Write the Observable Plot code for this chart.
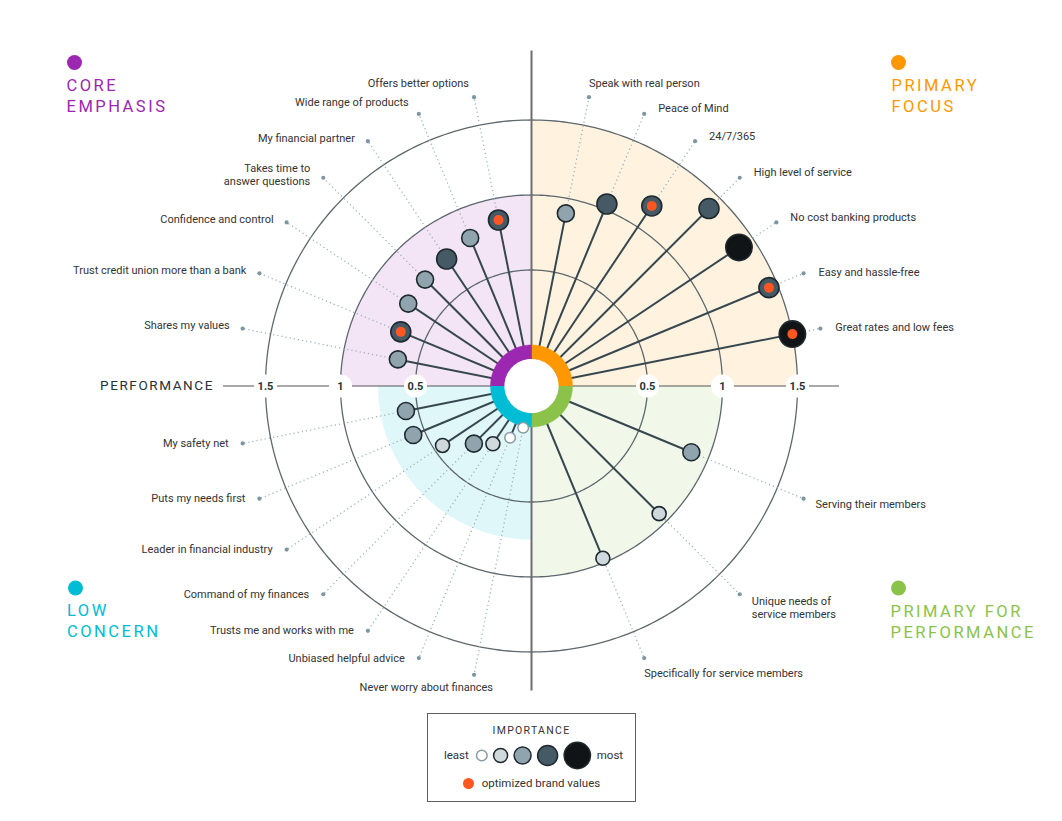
<!DOCTYPE html>
<html>
<head>
<meta charset="utf-8">
<script src="https://cdn.jsdelivr.net/npm/d3@7"></script>
<script src="https://cdn.jsdelivr.net/npm/@observablehq/plot@0.6"></script>
<style>
  body { margin: 0; background: #fff; font-family: Roboto, "Noto Sans", sans-serif; }
  #chart { position: absolute; left: 0; top: 0; }
  #legend { position: absolute; left: 427px; top: 713px; width: 209px; height: 89px; box-sizing: border-box;
            border: 1.5px solid #5f5f5f; color: #333; }
  #legend .ltitle { position: absolute; top: 10px; left: 0; width: 100%; text-align: center; font-size: 10.5px; letter-spacing: 1.3px; }
  #legend .lrow { position: absolute; top: 26px; left: 2px; width: 100%; display: flex; justify-content: center; align-items: center; gap: 6px; font-size: 11.5px; }
  #legend .lrow2 { position: absolute; top: 62px; left: 0; width: 100%; display: flex; justify-content: center; align-items: center; gap: 8px; font-size: 11.5px; }
  #legend .odot { width: 11px; height: 11px; border-radius: 50%; background: #ff5722; display: inline-block; }
</style>
</head>
<body>
<div id="chart"></div>
<div id="legend">
  <div class="ltitle">IMPORTANCE</div>
  <div class="lrow"><span>least</span><span id="swatches"></span><span>most</span></div>
  <div class="lrow2"><span class="odot"></span><span>optimized brand values</span></div>
</div>
<script>
// ---------------- DATA ----------------
// Quadrant order of items: clockwise from the quadrant's starting axis
const trLabels = ["Speak with real person", "Peace of Mind", "24/7/365", "High level of service",
                  "No cost banking products", "Easy and hassle-free", "Great rates and low fees"];
const trValues = [0.90, 1.04, 1.17, 1.40, 1.39, 1.44, 1.50];
const trImportance = [3, 4, 4, 4, 5, 4, 5];
const trOptimized = [false, false, true, false, false, true, true];

const brLabels = ["Serving their members", "Unique needs of\nservice members", "Specifically for service members"];
const brValues = [0.88, 0.93, 0.97];
const brImportance = [3, 2, 2];
const brOptimized = [false, false, false];

const blLabels = ["Never worry about finances", "Unbiased helpful advice", "Trusts me and works with me",
                  "Command of my finances", "Leader in financial industry", "Puts my needs first", "My safety net"];
const blValues = [0.01, 0.10, 0.19, 0.27, 0.44, 0.58, 0.58];
const blImportance = [1, 1, 2, 3, 2, 3, 3];
const blOptimized = [false, false, false, false, false, false, false];

const tlLabels = ["Shares my values", "Trust credit union more than a bank", "Confidence and control",
                  "Takes time to\nanswer questions", "My financial partner", "Wide range of products", "Offers better options"];
const tlValues = [0.635, 0.67, 0.715, 0.73, 0.745, 0.795, 0.855];
const tlImportance = [3, 4, 3, 3, 4, 3, 4];
const tlOptimized = [false, true, false, false, false, false, true];

const quadrantKeys = ["TR", "BR", "BL", "TL"];
const quadrantNames = ["PRIMARY\nFOCUS", "PRIMARY FOR\nPERFORMANCE", "LOW\nCONCERN", "CORE\nEMPHASIS"];
const quadrantExtent = [1.5, 1.0, 0.75, 1.0];   // shaded sector reach (performance)
const gridTicks = [0.5, 1, 1.5];
const importanceLevels = [1, 2, 3, 4, 5];
const axisTitle = "PERFORMANCE";

// ---------------- STYLE ----------------
const ringColors = ["#ff9800", "#8bc34a", "#00bcd4", "#9c27b0"];
const shadeColors = ["#fff3e0", "#f1f8e9", "#e0f7fa", "#f3e5f5"];
const levelFills = ["#ffffff", "#cfd8dc", "#90a4ae", "#455a64", "#111416"];
const levelRadii = [5.3, 7, 8.5, 10, 13.2];
const W = 1062, H = 705, CX = 531, CY = 385.5, U = 150;   // U: pixels per performance unit
const R0 = 41 / U;    // performance 0 sits at the ring's outer edge
const RI = 27 / U;    // ring inner edge
const RL = 1.69;      // leader end (performance units)
const reach = {top: 1.96, bottom: 1.76, side: 1.78};

// ---------------- GEOMETRY HELPERS ----------------
const pol = (r, a) => ({x: r * Math.sin(a * Math.PI / 180), y: r * Math.cos(a * Math.PI / 180)});
const arc = (r, a0, a1) => {
  const n = Math.max(2, Math.ceil(Math.abs(a1 - a0)));
  return d3.range(n + 1).map(k => pol(r, a0 + (a1 - a0) * k / n));
};

const quadrants = [
  {labels: trLabels, values: trValues, importance: trImportance, optimized: trOptimized},
  {labels: brLabels, values: brValues, importance: brImportance, optimized: brOptimized},
  {labels: blLabels, values: blValues, importance: blImportance, optimized: blOptimized},
  {labels: tlLabels, values: tlValues, importance: tlImportance, optimized: tlOptimized}
].map((q, k) => ({...q, key: quadrantKeys[k], start: 90 * k, extent: quadrantExtent[k],
                  ring: ringColors[k], shade: shadeColors[k], name: quadrantNames[k]}));

function placeOf(key, i, n) {
  if (key === "TR") return i === 0 ? "aboveR" : (i >= n - 2 ? "rightLow" : "right");
  if (key === "TL") return i === n - 1 ? "aboveL" : (i === n - 2 ? "leftHigh" : "leftUp");
  if (key === "BL") return i === 0 ? "belowL" : "leftDown";
  return i === n - 1 ? "belowR" : "rightDown";
}
const placeStyle = {
  aboveR:    {textAnchor: "start", dx: 0,   dy: -14},
  right:     {textAnchor: "start", dx: 14,  dy: -5},
  rightLow:  {textAnchor: "start", dx: 15,  dy: -1},
  aboveL:    {textAnchor: "end",   dx: -5,  dy: -14},
  leftHigh:  {textAnchor: "end",   dx: -10, dy: -11},
  leftUp:    {textAnchor: "end",   dx: -13, dy: -3},
  belowL:    {textAnchor: "end",   dx: 19,  dy: 13},
  leftDown:  {textAnchor: "end",   dx: -14, dy: 0},
  belowR:    {textAnchor: "start", dx: 0,   dy: 15},
  rightDown: {textAnchor: "start", dx: 12,  dy: 6}
};

const items = quadrants.flatMap(q => {
  const n = q.labels.length;
  return q.labels.map((label, i) => {
    const a = q.start + (i + 1) * 90 / (n + 1);
    const p = pol(R0 + q.values[i], a), l = pol(R0 + RL, a);
    return {label, value: q.values[i], level: q.importance[i], opt: q.optimized[i],
            x: p.x, y: p.y, lx: l.x, ly: l.y, place: placeOf(q.key, i, n),
            multi: label.includes("\n")};
  });
});

const tickData = gridTicks.flatMap(t => [{t, x: -(R0 + t)}, {t, x: R0 + t}]);
const gridPts = gridTicks.flatMap(t => arc(R0 + t, 0, 360).map(p => ({...p, t})));

const corners = [
  {k: 0, dot: [898, 62], txt: [891, 75.5]},
  {k: 1, dot: [898, 587.5], txt: [890, 601.5]},
  {k: 2, dot: [75, 587.5], txt: [66.5, 601]},
  {k: 3, dot: [74, 62], txt: [66, 75.5]}
];

const marks = [];
// shaded sectors
quadrants.forEach(q => {
  marks.push(Plot.line([{x: 0, y: 0}, ...arc(R0 + q.extent, q.start, q.start + 90), {x: 0, y: 0}],
    {x: "x", y: "y", fill: q.shade, stroke: "none"}));
});
// grid circles
marks.push(Plot.line(gridPts, {x: "x", y: "y", z: "t", stroke: "#5d686d", strokeWidth: 1.3}));
// axes lines
marks.push(Plot.ruleY([0], {x1: -(R0 + reach.side), x2: R0 + reach.side, stroke: "#555", strokeWidth: 1.2}));
marks.push(Plot.ruleX([0], {y1: -(R0 + reach.bottom), y2: R0 + reach.top, stroke: "#6e6e6e", strokeWidth: 2}));
// leaders
marks.push(Plot.link(items, {x1: "x", y1: "y", x2: "lx", y2: "ly", stroke: "#9fb1b9", strokeWidth: 1.3, strokeDasharray: "1.2,3"}));
marks.push(Plot.dot(items, {x: "lx", y: "ly", r: 2.1, fill: "#7d97a2"}));
// stems
marks.push(Plot.link(items, {x1: () => 0, y1: () => 0, x2: "x", y2: "y", stroke: "#37474f", strokeWidth: 2}));
// ring
quadrants.forEach(q => {
  marks.push(Plot.line([...arc(R0, q.start, q.start + 90), ...arc(RI, q.start + 90, q.start)],
    {x: "x", y: "y", fill: q.ring, stroke: q.ring, strokeWidth: 0.5}));
});
marks.push(Plot.line(arc(RI, 0, 360), {x: "x", y: "y", fill: "white", stroke: "none"}));
// tick labels
marks.push(Plot.dot(tickData, {x: "x", y: () => 0, r: 11.5, fill: "white"}));
marks.push(Plot.text(tickData, {x: "x", y: () => 0, text: d => String(d.t), fontWeight: "bold", fontSize: 11, fill: "#263238"}));
marks.push(Plot.text([axisTitle], {x: () => -(R0 + reach.side), y: () => 0, text: d => d, textAnchor: "end", dx: -9.5,
  fontSize: 13.5, fill: "#263238"}));
// lollipop heads
marks.push(Plot.dot(items.filter(d => d.level === 1), {x: "x", y: "y", r: d => levelRadii[d.level - 1], fill: "level", stroke: "#8a9aa3", strokeWidth: 1.5}));
marks.push(Plot.dot(items.filter(d => d.level > 1), {x: "x", y: "y", r: d => levelRadii[d.level - 1], fill: "level", stroke: "#1f2a30", strokeWidth: 1.6}));
marks.push(Plot.dot(items.filter(d => d.opt), {x: "x", y: "y", r: 5, fill: "#ff5722"}));
// labels
Object.entries(placeStyle).forEach(([k, s]) => {
  const grp = items.filter(d => d.place === k);
  const single = grp.filter(d => !d.multi), multi = grp.filter(d => d.multi);
  marks.push(Plot.text(single, {x: "lx", y: "ly", text: "label", ...s, fontSize: 11, fill: "#333"}));
  marks.push(Plot.text(multi, {x: "lx", y: "ly", text: "label", ...s, dy: s.dy + (k === "rightDown" ? 7.5 : 0),
    fontSize: 11, fill: "#333", lineHeight: 1.15}));
});
// corner labels
corners.forEach(c => {
  const q = quadrants[c.k];
  marks.push(Plot.dot([q], {frameAnchor: "top-left", dx: c.dot[0], dy: c.dot[1], r: 7.5, fill: q.ring}));
  marks.push(Plot.text([q], {frameAnchor: "top-left", dx: c.txt[0], dy: c.txt[1], text: "name", textAnchor: "start",
    lineAnchor: "top", fontSize: 16.5, lineHeight: 1.26, fill: q.ring}));
});

const chart = Plot.plot({
  width: W, height: H, margin: 0,
  x: {domain: [-CX / U, (W - CX) / U], range: [0, W], axis: null},
  y: {domain: [-(H - CY) / U, CY / U], range: [H, 0], axis: null},
  r: {type: "identity"},
  color: {type: "ordinal", domain: importanceLevels, range: levelFills},
  style: {fontFamily: "Roboto, sans-serif", background: "transparent", overflow: "visible"},
  marks
});
document.getElementById("chart").appendChild(chart);

// letter spacing for the spaced capitals
const cornerText = quadrantNames.map(n => n.replace("\n", ""));
d3.select(chart).selectAll("text").each(function () {
  const t = this.textContent;
  if (cornerText.includes(t)) this.style.letterSpacing = "2.5px";
  else if (t === axisTitle) this.style.letterSpacing = "1.6px";
});

// legend swatches
let cur = 1;
const centers = levelRadii.map((r, i) => { const c = cur + r; cur = c + r + (i < levelRadii.length - 1 ? 6.5 : 1); return c; });
const sw = Plot.plot({
  width: cur, height: 30, margin: 0,
  x: {type: "identity", axis: null}, y: {type: "identity", axis: null},
  r: {type: "identity"},
  color: {type: "ordinal", domain: importanceLevels, range: levelFills},
  style: {background: "transparent", overflow: "visible", display: "block"},
  marks: [
    Plot.dot(importanceLevels, {x: d => centers[d - 1], y: () => 15, r: d => levelRadii[d - 1], fill: d => d,
      stroke: d => d === 1 ? "#8a9aa3" : "#1f2a30", strokeWidth: 1.5})
  ]
});
document.getElementById("swatches").appendChild(sw);
</script>
</body>
</html>
